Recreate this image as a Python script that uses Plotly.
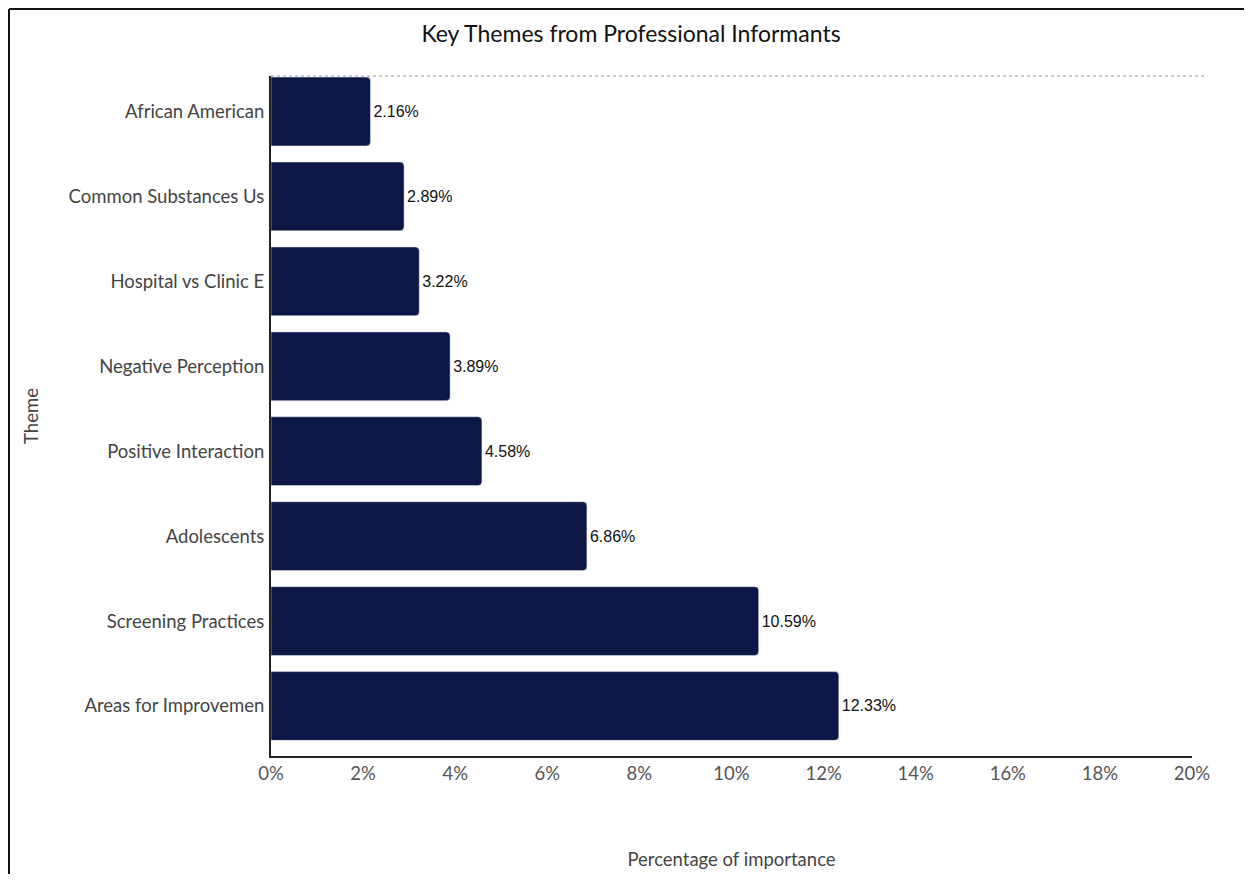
import plotly.graph_objects as go

themes = ["Areas for Improvemen", "Screening Practices", "Adolescents", "Positive Interaction",
          "Negative Perception", "Hospital vs Clinic E", "Common Substances Us", "African American"]
values = [12.33, 10.59, 6.86, 4.58, 3.89, 3.22, 2.89, 2.16]
labels = [f"{v:.2f}%" for v in values]
x_ticks = [0, 2, 4, 6, 8, 10, 12, 14, 16, 18, 20]
x_tick_text = [f"{t}%" for t in x_ticks]

W, H = 1236, 866
L, T, R, B = 263, 68, 52, 118
pw, ph = W - L - R, H - T - B

fig = go.Figure(go.Bar(
    y=themes, x=values, orientation="h",
    marker=dict(color="#0d1745", cornerradius=4),
    width=0.81,
    text=labels, textposition="outside",
    textfont=dict(family="Liberation Sans, Arial", size=16, color="#111"),
    cliponaxis=False,
))

fig.update_layout(
    width=W, height=H,
    margin=dict(l=L, r=R, t=T, b=B),
    paper_bgcolor="white", plot_bgcolor="white",
    title=dict(text="Key Themes from Professional Informants", x=(631 - 8) / W, xanchor="center",
               y=1 - (34 - 8) / H, yanchor="middle",
               font=dict(family="Lato", size=23, color="#111")),
    font=dict(family="Lato", color="#444"),
    xaxis=dict(range=[0, 20], tickvals=x_ticks, ticktext=x_tick_text, automargin=False,
               tickfont=dict(size=18.5, color="#555"), showgrid=False, zeroline=False,
               showline=True, linecolor="#222", linewidth=2, ticks="",
               title=dict(text="Percentage of importance", font=dict(size=18.5, color="#444"), standoff=70)),
    yaxis=dict(type="category", categoryorder="array", categoryarray=themes, automargin=False,
               range=[-0.589, 7.418], tickfont=dict(size=18.5, color="#444"),
               showgrid=False, zeroline=False, showline=True, linecolor="#222", linewidth=2,
               ticks="outside", ticklen=1, tickcolor="white",
               title=dict(text="Theme", font=dict(size=18.5, color="#444"), standoff=25)),
    showlegend=False,
    shapes=[
        dict(type="line", xref="paper", yref="paper", x0=0, x1=(1205 - 271) / pw, y0=1, y1=1,
             line=dict(color="#999", width=1, dash="dot")),
        dict(type="line", xref="paper", yref="paper", x0=-(L - 1) / pw, x1=-(L - 1) / pw,
             y0=-(B + 5) / ph, y1=1 + (T - 1) / ph,
             line=dict(color="#111", width=2)),
        dict(type="line", xref="paper", yref="paper", x0=-(L - 1) / pw, x1=1 + (R + 5) / pw,
             y0=1 + (T - 1) / ph, y1=1 + (T - 1) / ph,
             line=dict(color="#111", width=2)),
    ],
)

fig.write_html("out.html")
